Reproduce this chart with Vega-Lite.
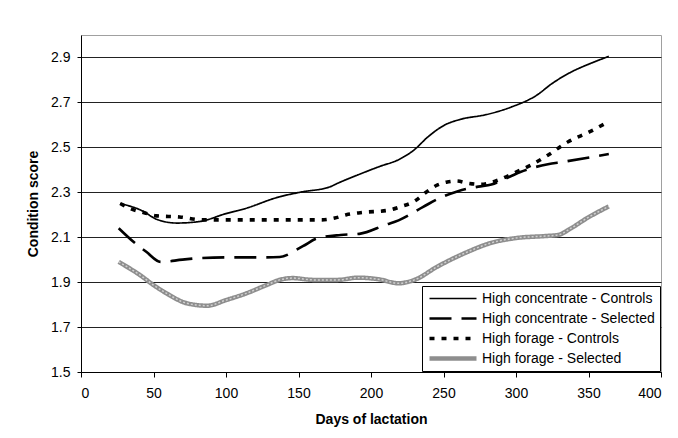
{
  "$schema": "https://vega.github.io/schema/vega-lite/v6.json",
  "width": 580,
  "height": 337,
  "autosize": {"type": "none"},
  "padding": {"left": 81, "top": 35, "right": 17, "bottom": 66},
  "background": "white",
  "config": {
    "font": "Liberation Sans",
    "view": {"stroke": "#a0a0a0", "strokeWidth": 1},
    "axis": {
      "labelFont": "Liberation Sans",
      "labelFontSize": 14,
      "labelColor": "#000",
      "titleFont": "Liberation Sans",
      "titleFontSize": 14,
      "titleFontWeight": "bold",
      "titleColor": "#000",
      "domainColor": "#000",
      "tickColor": "#000"
    }
  },
  "data": {
    "values": [
      {"series": "High concentrate - Controls", "day": 27, "score": 2.25},
      {"series": "High concentrate - Controls", "day": 43, "score": 2.215},
      {"series": "High concentrate - Controls", "day": 52, "score": 2.18},
      {"series": "High concentrate - Controls", "day": 66, "score": 2.163},
      {"series": "High concentrate - Controls", "day": 82, "score": 2.17},
      {"series": "High concentrate - Controls", "day": 100, "score": 2.205},
      {"series": "High concentrate - Controls", "day": 112, "score": 2.225},
      {"series": "High concentrate - Controls", "day": 137, "score": 2.28},
      {"series": "High concentrate - Controls", "day": 151, "score": 2.3},
      {"series": "High concentrate - Controls", "day": 172, "score": 2.325},
      {"series": "High concentrate - Controls", "day": 177, "score": 2.34},
      {"series": "High concentrate - Controls", "day": 192, "score": 2.38},
      {"series": "High concentrate - Controls", "day": 206, "score": 2.415},
      {"series": "High concentrate - Controls", "day": 219, "score": 2.445},
      {"series": "High concentrate - Controls", "day": 230, "score": 2.49},
      {"series": "High concentrate - Controls", "day": 239, "score": 2.545},
      {"series": "High concentrate - Controls", "day": 251, "score": 2.6},
      {"series": "High concentrate - Controls", "day": 262, "score": 2.625},
      {"series": "High concentrate - Controls", "day": 279, "score": 2.645},
      {"series": "High concentrate - Controls", "day": 297, "score": 2.68},
      {"series": "High concentrate - Controls", "day": 315, "score": 2.735},
      {"series": "High concentrate - Controls", "day": 324, "score": 2.78},
      {"series": "High concentrate - Controls", "day": 338, "score": 2.835},
      {"series": "High concentrate - Controls", "day": 352, "score": 2.875},
      {"series": "High concentrate - Controls", "day": 364, "score": 2.905},

      {"series": "High concentrate - Selected", "day": 26, "score": 2.14},
      {"series": "High concentrate - Selected", "day": 37, "score": 2.075},
      {"series": "High concentrate - Selected", "day": 45, "score": 2.035},
      {"series": "High concentrate - Selected", "day": 55, "score": 1.99},
      {"series": "High concentrate - Selected", "day": 70, "score": 2.0},
      {"series": "High concentrate - Selected", "day": 82, "score": 2.007},
      {"series": "High concentrate - Selected", "day": 100, "score": 2.01},
      {"series": "High concentrate - Selected", "day": 127, "score": 2.01},
      {"series": "High concentrate - Selected", "day": 137, "score": 2.012},
      {"series": "High concentrate - Selected", "day": 153, "score": 2.06},
      {"series": "High concentrate - Selected", "day": 163, "score": 2.095},
      {"series": "High concentrate - Selected", "day": 179, "score": 2.11},
      {"series": "High concentrate - Selected", "day": 192, "score": 2.115},
      {"series": "High concentrate - Selected", "day": 210, "score": 2.155},
      {"series": "High concentrate - Selected", "day": 219, "score": 2.175},
      {"series": "High concentrate - Selected", "day": 236, "score": 2.235},
      {"series": "High concentrate - Selected", "day": 246, "score": 2.27},
      {"series": "High concentrate - Selected", "day": 260, "score": 2.305},
      {"series": "High concentrate - Selected", "day": 274, "score": 2.325},
      {"series": "High concentrate - Selected", "day": 283, "score": 2.335},
      {"series": "High concentrate - Selected", "day": 296, "score": 2.37},
      {"series": "High concentrate - Selected", "day": 303, "score": 2.39},
      {"series": "High concentrate - Selected", "day": 322, "score": 2.425},
      {"series": "High concentrate - Selected", "day": 332, "score": 2.435},
      {"series": "High concentrate - Selected", "day": 351, "score": 2.455},
      {"series": "High concentrate - Selected", "day": 364, "score": 2.47},

      {"series": "High forage - Controls", "day": 27, "score": 2.25},
      {"series": "High forage - Controls", "day": 35, "score": 2.225},
      {"series": "High forage - Controls", "day": 43, "score": 2.21},
      {"series": "High forage - Controls", "day": 52, "score": 2.195},
      {"series": "High forage - Controls", "day": 68, "score": 2.19},
      {"series": "High forage - Controls", "day": 84, "score": 2.177},
      {"series": "High forage - Controls", "day": 112, "score": 2.177},
      {"series": "High forage - Controls", "day": 145, "score": 2.177},
      {"series": "High forage - Controls", "day": 166, "score": 2.177},
      {"series": "High forage - Controls", "day": 175, "score": 2.185},
      {"series": "High forage - Controls", "day": 183, "score": 2.2},
      {"series": "High forage - Controls", "day": 194, "score": 2.21},
      {"series": "High forage - Controls", "day": 212, "score": 2.22},
      {"series": "High forage - Controls", "day": 220, "score": 2.235},
      {"series": "High forage - Controls", "day": 230, "score": 2.26},
      {"series": "High forage - Controls", "day": 238, "score": 2.3},
      {"series": "High forage - Controls", "day": 245, "score": 2.33},
      {"series": "High forage - Controls", "day": 252, "score": 2.345},
      {"series": "High forage - Controls", "day": 259, "score": 2.35},
      {"series": "High forage - Controls", "day": 267, "score": 2.34},
      {"series": "High forage - Controls", "day": 275, "score": 2.335},
      {"series": "High forage - Controls", "day": 290, "score": 2.36},
      {"series": "High forage - Controls", "day": 300, "score": 2.39},
      {"series": "High forage - Controls", "day": 310, "score": 2.42},
      {"series": "High forage - Controls", "day": 322, "score": 2.465},
      {"series": "High forage - Controls", "day": 336, "score": 2.525},
      {"series": "High forage - Controls", "day": 351, "score": 2.57},
      {"series": "High forage - Controls", "day": 364, "score": 2.615},

      {"series": "High forage - Selected", "day": 26, "score": 1.99},
      {"series": "High forage - Selected", "day": 41, "score": 1.93},
      {"series": "High forage - Selected", "day": 50, "score": 1.887},
      {"series": "High forage - Selected", "day": 59, "score": 1.85},
      {"series": "High forage - Selected", "day": 73, "score": 1.806},
      {"series": "High forage - Selected", "day": 87, "score": 1.795},
      {"series": "High forage - Selected", "day": 100, "score": 1.82},
      {"series": "High forage - Selected", "day": 114, "score": 1.85},
      {"series": "High forage - Selected", "day": 128, "score": 1.887},
      {"series": "High forage - Selected", "day": 137, "score": 1.91},
      {"series": "High forage - Selected", "day": 146, "score": 1.918},
      {"series": "High forage - Selected", "day": 160, "score": 1.91},
      {"series": "High forage - Selected", "day": 177, "score": 1.91},
      {"series": "High forage - Selected", "day": 191, "score": 1.92},
      {"series": "High forage - Selected", "day": 205, "score": 1.913},
      {"series": "High forage - Selected", "day": 219, "score": 1.895},
      {"series": "High forage - Selected", "day": 230, "score": 1.91},
      {"series": "High forage - Selected", "day": 246, "score": 1.97},
      {"series": "High forage - Selected", "day": 265, "score": 2.03},
      {"series": "High forage - Selected", "day": 283, "score": 2.075},
      {"series": "High forage - Selected", "day": 301, "score": 2.097},
      {"series": "High forage - Selected", "day": 320, "score": 2.105},
      {"series": "High forage - Selected", "day": 329, "score": 2.11},
      {"series": "High forage - Selected", "day": 338, "score": 2.14},
      {"series": "High forage - Selected", "day": 349, "score": 2.185},
      {"series": "High forage - Selected", "day": 364, "score": 2.237}
    ]
  },
  "layer": [
    {
      "mark": {"type": "line", "interpolate": "monotone"},
      "encoding": {
        "x": {
          "field": "day",
          "type": "quantitative",
          "scale": {"domain": [0, 400], "nice": false},
          "axis": {
            "values": [0, 50, 100, 150, 200, 250, 300, 350, 400],
            "title": "Days of lactation",
            "grid": false,
            "tickSize": 5,
            "labelPadding": 9,
            "titlePadding": 12
          }
        },
        "y": {
          "field": "score",
          "type": "quantitative",
          "scale": {"domain": [1.5, 3.0], "nice": false, "zero": false},
          "axis": {
            "values": [1.5, 1.7, 1.9, 2.1, 2.3, 2.5, 2.7, 2.9],
            "format": ".1f",
            "title": "Condition score",
            "grid": true,
            "gridColor": "#222",
            "gridWidth": 1,
            "tickSize": 4,
            "labelPadding": 7,
            "titlePadding": 10
          }
        },
        "color": {
          "field": "series",
          "type": "nominal",
          "scale": {
            "domain": ["High concentrate - Controls", "High concentrate - Selected", "High forage - Controls", "High forage - Selected"],
            "range": ["#000000", "#000000", "#000000", "#8e8e8e"]
          },
          "legend": {
            "orient": "bottom-right",
            "offset": 1,
            "title": null,
            "symbolType": "stroke",
            "symbolSize": 2209,
            "clipHeight": 15,
            "rowPadding": 5,
            "padding": 5,
            "fillColor": "white",
            "strokeColor": "#000",
            "labelFont": "Liberation Sans",
            "labelFontSize": 14,
            "labelColor": "#000",
            "labelOffset": 3,
            "labelLimit": 400
          }
        },
        "strokeDash": {
          "field": "series",
          "type": "nominal",
          "scale": {
            "domain": ["High concentrate - Controls", "High concentrate - Selected", "High forage - Controls", "High forage - Selected"],
            "range": [[1, 0], [22, 10], [5, 7], [1, 0]]
          }
        },
        "strokeWidth": {
          "field": "series",
          "type": "ordinal",
          "scale": {
            "domain": ["High concentrate - Controls", "High concentrate - Selected", "High forage - Controls", "High forage - Selected"],
            "range": [1.7, 4.5, 3, 5]
          }
        }
      }
    },
    {
      "transform": [{"filter": "datum.series === 'High forage - Selected'"}],
      "mark": {"type": "line", "interpolate": "monotone", "color": "#d0d0d0", "strokeWidth": 1.5, "strokeDash": [2, 2]},
      "encoding": {
        "x": {"field": "day", "type": "quantitative"},
        "y": {"field": "score", "type": "quantitative"}
      }
    }
  ]
}
